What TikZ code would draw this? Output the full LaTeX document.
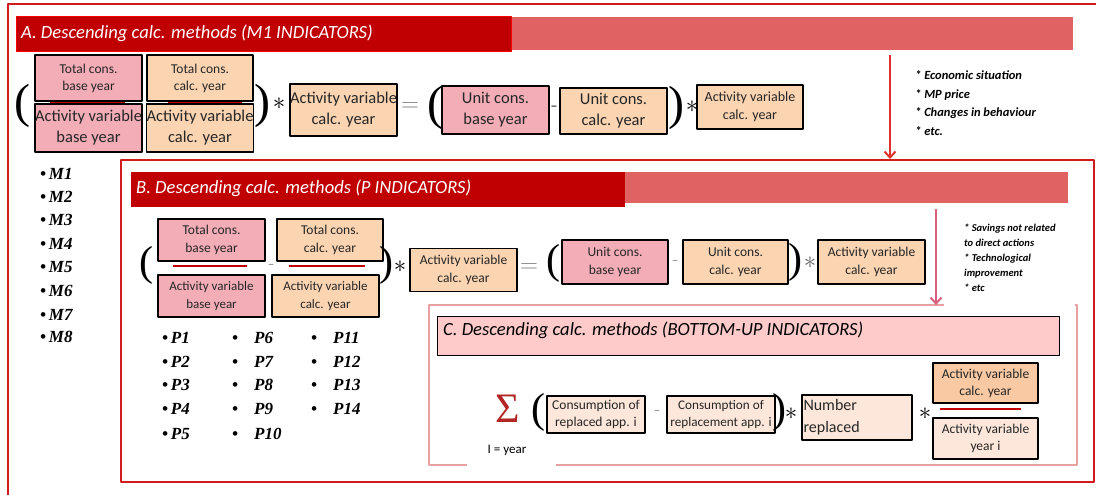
\documentclass[tikz,border=0pt]{standalone}
\usepackage{fontspec}
\setmainfont{Carlito}
\newfontfamily\serifa{Liberation Serif}
\usetikzlibrary{arrows.meta}
\definecolor{barred}{HTML}{C00000}
\definecolor{barlight}{HTML}{E06262}
\definecolor{frred}{HTML}{D21C1C}
\definecolor{boxpink}{HTML}{F2ADB6}
\definecolor{boxpeach}{HTML}{FBD4B2}
\definecolor{boxdeep}{HTML}{F8C9A2}
\definecolor{boxlight}{HTML}{FDE7DA}
\definecolor{ctitle}{HTML}{FFCACA}
\definecolor{cframe}{HTML}{E9A0A0}
\definecolor{arrred}{HTML}{E0302A}
\definecolor{arrpink}{HTML}{D9607C}
\definecolor{sumred}{HTML}{B22626}
\tikzset{
 bx/.style={draw,line width=1.4pt,align=center,inner sep=0pt,text=black!85},
 pk/.style={bx,fill=boxpink},
 pc/.style={bx,fill=boxpeach},
 lt/.style={bx,fill=boxlight},
 wh/.style 2 args={minimum width=#1,minimum height=#2},
 s13/.style={font=\fontsize{13.5}{17}\selectfont},
 s16/.style={font=\fontsize{16.5}{21}\selectfont},
 paren/.style={inner sep=0pt,font=\serifa\fontsize{#1}{#1}\selectfont},
 op/.style={inner sep=0pt,font=\fontsize{24}{24}\selectfont},
 ttl/.style={anchor=west,inner sep=0pt,font=\itshape\fontsize{18.6}{18.6}\selectfont},
 note/.style={anchor=west,align=left,inner sep=0pt},
 lst/.style={anchor=west,inner sep=0pt,font=\serifa\bfseries\itshape\fontsize{17}{17}\selectfont},
 flow/.style={line width=2pt,-{Straight Barb[length=6pt,width=11pt]}}
}
\begin{document}
\begin{tikzpicture}[x=1pt,y=-1pt,line join=round]
\useasboundingbox(0,0)rectangle(1096,495);
% frames and title bars
\draw[frred,line width=1.2pt](8,500)--(8,4)--(1100,4);
\fill[barlight](511,17)rectangle(1073,50);
\filldraw[fill=barred,draw=red,line width=1pt](16,17)rectangle(511,52);
\node[ttl,text=white](ta)at(21,33){A. Descending calc. methods (M1 INDICATORS)};
\draw[frred,line width=1.8pt](121,160)rectangle(1094,482);
\fill[barlight](625,172)rectangle(1068,203);
\fill[barred](131,172)rectangle(625,207);
\node[ttl,text=white](tb)at(136,188){B. Descending calc. methods (P INDICATORS)};
\draw[cframe,line width=2pt](429,305)rectangle(1077,465);
\fill[white](944,212)rectangle(1075,309);
\node[draw,line width=1.4pt,fill=ctitle,wh={622}{39},anchor=north west](tc)at(437,316){};
\node[ttl](tct)at(443,330){C. Descending calc. methods (BOTTOM-UP INDICATORS)};
% A: M1 indicators
\draw[barred,line width=3pt](50,102)--(125,102)(168,102)--(242,102);
\node[paren=48](ap1)at(22,106){(};
\node[pk,wh={107}{46},s13](a1)at(88.5,78){Total cons.\\base year};
\node[pc,wh={106}{46},s13](a2)at(200,78){Total cons.\\calc. year};
\node[pk,wh={107}{48},s16](a3)at(88.5,128){Activity variable\\base year};
\node[pc,wh={106}{48},s16](a4)at(200,128){Activity variable\\calc. year};
\node[paren=48](ap2)at(262,106){)};
\node[op](am1)at(279,104){$\ast$};
\node[pc,wh={107}{52},s16](a5)at(343.5,110){Activity variable\\calc. year};
\node[op,text=gray](aeq)at(410,107){$=$};
\node[paren=48](ap3)at(435,108){(};
\node[pk,wh={107}{48},s16](a6)at(495.5,110){Unit cons.\\base year};
\node[font=\fontsize{14}{14}\selectfont,inner sep=0pt](amin)at(554,108){--};
\node[pc,wh={107}{46},s16](a7)at(613.5,111){Unit cons.\\calc. year};
\node[paren=48](ap4)at(676,108){)};
\node[op](am2)at(692,107){$\ast$};
\node[pc,wh={106}{44},font=\fontsize{14}{18}\selectfont](a8)at(750,107){Activity variable\\calc. year};
\coordinate(aa1)at(890,55);\coordinate(aa2)at(890,159);
\draw[flow,arrred](aa1)--(aa2);
\node[note,font=\bfseries\itshape\fontsize{12.5}{18.5}\selectfont](an)at(915,103){* Economic situation\\* MP price\\* Changes in behaviour\\* etc.};
\foreach \i/\y in {1/174,2/197,3/220,4/244,5/267,6/291,7/315,8/337}
  \node[lst](m\i)at(40,\y){\textbullet\,M\i};
% B: P indicators
\draw[barred,line width=2.5pt](173,266)--(247,266)(289,266)--(365,266);
\node[paren=42](bp1)at(146,265){(};
\node[pk,wh={107}{42},font=\fontsize{13.5}{18}\selectfont](b1)at(211.5,240){Total cons.\\base year};
\node[pc,wh={106}{42},font=\fontsize{13.5}{18}\selectfont](b2)at(330,240){Total cons.\\calc. year};
\node[font=\fontsize{13}{13}\selectfont,inner sep=0pt,text=gray](bmin)at(271,266){--};
\node[pk,wh={107}{42},font=\fontsize{13}{18}\selectfont](b3)at(211.5,296){Activity variable\\base year};
\node[pc,wh={107}{42},font=\fontsize{13}{18}\selectfont](b4)at(325.5,296){Activity variable\\calc. year};
\node[paren=42](bp2)at(386,265){)};
\node[op](bm1)at(400,267){$\ast$};
\node[pc,wh={107}{43},font=\fontsize{13.5}{18}\selectfont](b5)at(463.5,270){Activity variable\\calc. year};
\node[op,text=gray](beq)at(529,268){$=$};
\node[paren=42](bp3)at(553,263){(};
\node[pk,wh={106}{44},font=\fontsize{13.5}{18}\selectfont](b6)at(615,262){Unit cons.\\base year};
\node[font=\fontsize{13}{13}\selectfont,inner sep=0pt,text=gray](bmin2)at(675,262){--};
\node[pc,wh={105}{44},font=\fontsize{13.5}{18}\selectfont](b7)at(735.5,262){Unit cons.\\calc. year};
\node[paren=42](bp4)at(795,262){)};
\node[op,text=gray!80!black](bm2)at(810,263){$\ast$};
\node[pc,wh={107}{44},font=\fontsize{13.5}{18}\selectfont](b8)at(871.5,262){Activity variable\\calc. year};
\coordinate(ba1)at(936,209);\coordinate(ba2)at(936,305);
\draw[flow,arrpink](ba1)--(ba2);
\node[note,font=\bfseries\itshape\fontsize{10.5}{15}\selectfont](bn)at(964,258){* Savings not related\\to direct actions\\* Technological\\improvement\\* etc};
\foreach \i/\y in {1/338,2/362,3/385,4/409,5/434}
  \node[lst](p\i)at(162,\y){\textbullet\,P\i};
\foreach \i/\y in {6/338,7/362,8/385,9/409,10/434}
  \node[lst](p\i)at(232,\y){\textbullet\hspace{16pt}P\i};
\foreach \i/\y in {11/338,12/362,13/385,14/409}
  \node[lst](p\i)at(311,\y){\textbullet\hspace{16pt}P\i};
% C: bottom-up indicators
\fill[white](467,430)rectangle(556,480);
\node[font=\fontsize{13}{13}\selectfont,inner sep=0pt](iy)at(507,450){I = year};
\node[text=sumred,inner sep=0pt,font=\serifa\fontsize{42}{42}\selectfont](sum)at(508,409){Σ};
\node[paren=42](cp1)at(538,412){(};
\node[lt,wh={98}{37},s13](c1)at(596,414.5){Consumption of\\replaced app. i};
\node[font=\fontsize{13}{13}\selectfont,inner sep=0pt,text=gray](cmin)at(657,412){--};
\node[lt,wh={108}{37},font=\fontsize{13.2}{17}\selectfont](c2)at(721,414.5){Consumption of\\replacement app. i};
\node[paren=42](cp2)at(779,412){)};
\node[op](cm1)at(791,414){$\ast$};
\node[lt,wh={110}{45},font=\fontsize{16}{22}\selectfont,align=left,text width=107pt](c3)at(857,417.5){Number\\replaced};
\node[op](cm2)at(925,414){$\ast$};
\node[bx,fill=boxdeep,wh={105}{40},s13](c4)at(985.5,383){Activity variable\\calc. year};
\draw[barred,line width=2.5pt](940,409)--(1021,409);
\node[lt,wh={105}{41},s13](c5)at(985.5,438.5){Activity variable\\year i};
\end{tikzpicture}
\end{document}
